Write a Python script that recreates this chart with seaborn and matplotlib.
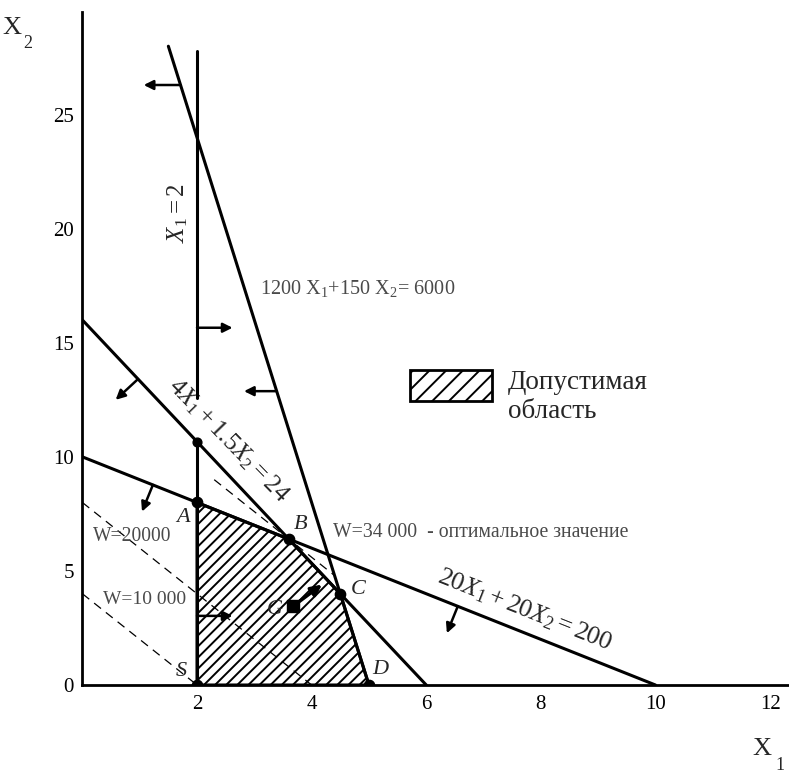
import numpy as np
import pandas as pd
import matplotlib
matplotlib.use("Agg")
import matplotlib.pyplot as plt
import seaborn as sns

# ---- data ----
# constraints: a*x1 + b*x2 = c, drawn for x1 in [x_from, x_to]
con_a = [1200, 4, 20]
con_b = [150, 1.5, 20]
con_c = [6000, 24, 200]
con_x_from = [1.5, 0, 0]
con_x_to = [5, 6, 10]
x1_min = 2
x1_min_lo = [0, 12.6]
x1_min_hi = [32 / 3, 27.8]
# objective W = c1*x1 + c2*x2
obj_c1, obj_c2 = 5000, 2500
obj_levels = [10000, 20000, 34000]
obj_x_from = [0, 0, 2.3]
obj_x_to = [2, 4, 4.4]
# feasible region vertices S, A, B, C, D
vertex_names = ["S", "A", "B", "C", "D"]
vertex_x1 = [2, 2, 3.6, 4.5, 5]
vertex_x2 = [0, 8, 6.4, 4, 0]
g_x1, g_x2 = 3.68, 3.46
xticks = [2, 4, 6, 8, 10, 12]
yticks = [0, 5, 10, 15, 20, 25]

# ---- style ----
sns.set_style("white")
plt.rcParams["font.family"] = ["Liberation Serif", "DejaVu Serif"]
plt.rcParams["mathtext.fontset"] = "custom"
plt.rcParams["mathtext.rm"] = "Liberation Serif"
plt.rcParams["mathtext.it"] = "Liberation Serif:italic"
plt.rcParams["hatch.linewidth"] = 1.4

W, H = 789, 776
fig = plt.figure(figsize=(W / 100, H / 100), dpi=100)
left_px, bottom_px, top_px = 82.4, 91, 764
ax = fig.add_axes([left_px / W, bottom_px / H, 1 - left_px / W, (top_px - bottom_px) / H])
ax.set_xlim(0, 12.33)
ax.set_ylim(0, 29.5)

LW = 2.2
GRAY = "#4a4a4a"

# constraint lines
for a, b, c, x0, x1 in zip(con_a, con_b, con_c, con_x_from, con_x_to):
    xs = np.array([x0, x1])
    df = pd.DataFrame({"x1": xs, "x2": (c - a * xs) / b})
    sns.lineplot(data=df, x="x1", y="x2", ax=ax, color="black", lw=LW,
                 estimator=None, sort=False, zorder=4)

for lo, hi in zip(x1_min_lo, x1_min_hi):
    df = pd.DataFrame({"x1": [x1_min, x1_min], "x2": [lo, hi]})
    sns.lineplot(data=df, x="x1", y="x2", ax=ax, color="black", lw=LW,
                 estimator=None, sort=False, zorder=4)

# objective lines
for w, x0, x1 in zip(obj_levels, obj_x_from, obj_x_to):
    xs = np.array([x0, x1])
    df = pd.DataFrame({"x1": xs, "x2": (w - obj_c1 * xs) / obj_c2})
    sns.lineplot(data=df, x="x1", y="x2", ax=ax, color="black", lw=0.9,
                 linestyle=(0, (7, 5)), estimator=None, sort=False, zorder=3)

# feasible region
ax.fill(vertex_x1, vertex_x2, facecolor="none", edgecolor="black",
        hatch="///", lw=LW, zorder=2)

# vertices dots
ax.scatter(vertex_x1, vertex_x2, s=55, color="black", zorder=6)
ax.scatter([x1_min], [32 / 3], s=40, color="black", zorder=6)
ax.scatter([g_x1], [g_x2], s=70, marker="s", color="black", zorder=6)

# constraint direction arrows
def arrow(start, end, lw=1.8, ms=14):
    ax.annotate("", xy=end, xytext=start,
                arrowprops=dict(arrowstyle="-|>", color="black", lw=lw,
                                mutation_scale=ms, shrinkA=0, shrinkB=0),
                zorder=7)

arrow((1.71, 26.3), (1.07, 26.3))
arrow((3.39, 12.88), (2.82, 12.88))
arrow((2.0, 15.66), (2.62, 15.66))
arrow((2.0, 3.03), (2.62, 3.03))
arrow((0.97, 13.41), (0.58, 12.5))
arrow((1.23, 8.77), (1.04, 7.6))
arrow((6.55, 3.45), (6.36, 2.27))
arrow((g_x1, g_x2), (4.18, 4.4), lw=2.4, ms=16)

# vertex letters
letter_pos = {"S": (1.72, 0.6), "A": (1.75, 7.33), "B": (3.8, 7.02),
              "C": (4.82, 4.2), "D": (5.2, 0.66)}
for n in vertex_names:
    x, y = letter_pos[n]
    ax.text(x, y, n, fontsize=16, style="italic", ha="center", va="center", zorder=8)
ax.text(3.35, 3.33, "G", fontsize=16, style="italic", ha="center", va="center", zorder=8)

# equation labels
ax.text(1.67, 20.7, r"$\mathit{X_1 = 2}$", rotation=90, fontsize=18,
        ha="center", va="center")
ax.text(3.1, 17.4, r"1200 X$_1$+150 X$_2$= 6000", fontsize=14.6, color=GRAY,
        ha="left", va="center")
ax.text(2.55, 10.72, r"$\mathit{4X_1 + 1.5X_2 = 24}$", rotation=-45.8,
        fontsize=18, ha="center", va="center", rotation_mode="anchor")
ax.text(7.72, 3.3, r"$\mathit{20X_1 + 20X_2 = 200}$", rotation=-21.7,
        fontsize=18.5, ha="center", va="center", rotation_mode="anchor")
ax.text(4.37, 6.67, "W=34 000  - оптимальное значение", fontsize=14.2, color=GRAY,
        ha="left", va="center")
ax.text(0.18, 6.5, "W=20000", fontsize=14.1, color=GRAY, ha="left", va="center")
ax.text(0.36, 3.73, "W=10 000", fontsize=14, color=GRAY, ha="left", va="center")

# legend box
ax.fill([5.72, 7.15, 7.15, 5.72], [12.45, 12.45, 13.8, 13.8], facecolor="none",
        edgecolor="black", hatch="//", lw=2)
ax.text(7.43, 13.25, "Допустимая", fontsize=19.5, ha="left", va="center")
ax.text(7.43, 11.97, "область", fontsize=19.5, ha="left", va="center")

# axes styling
for s in ["top", "right"]:
    ax.spines[s].set_visible(False)
for s in ["left", "bottom"]:
    ax.spines[s].set_color("black")
    ax.spines[s].set_linewidth(2.0)
ax.set_xticks(xticks)
ax.set_yticks(yticks)
ax.set_xticklabels([str(t) for t in xticks])
ax.set_yticklabels([str(t) for t in yticks])
ax.tick_params(axis="both", direction="in", length=11, width=1.5, labelsize=15,
               colors="black")
ax.tick_params(axis="x", pad=7)
ax.tick_params(axis="y", pad=6)
ax.set_xlabel("")
ax.set_ylabel("")

# axis titles
fig.text(12 / W, 1 - 28 / H, "X", fontsize=19, ha="center", va="center")
fig.text(28 / W, 1 - 44 / H, "2", fontsize=13, ha="center", va="center")
fig.text(762 / W, 1 - 749 / H, "X", fontsize=19, ha="center", va="center")
fig.text(780 / W, 1 - 766 / H, "1", fontsize=13, ha="center", va="center")

fig.savefig("out.png", dpi=100)
